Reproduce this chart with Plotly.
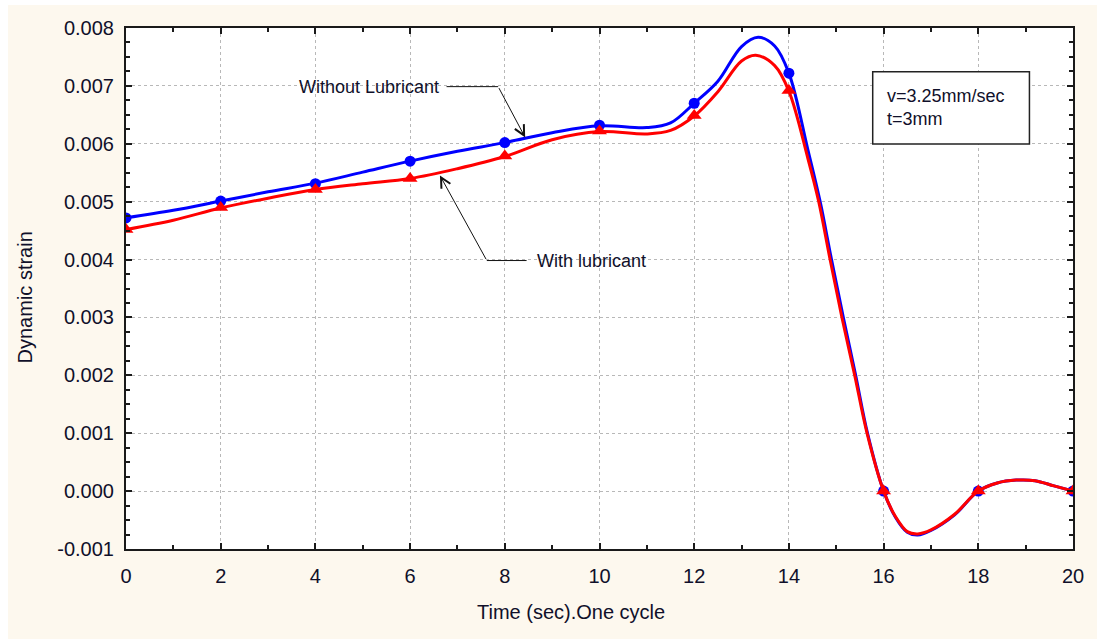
import plotly.graph_objects as go

# ---- data ----
marker_time = [0, 2, 4, 6, 8, 10, 12, 14, 16, 18, 20]
without_lub = [0.00472, 0.00501, 0.00531, 0.00570, 0.00602, 0.00632, 0.00670, 0.00722, 0.0, 0.0, 0.0]
with_lub = [0.00452, 0.00490, 0.00521, 0.00540, 0.00579, 0.00622, 0.00649, 0.00692, 0.0, 0.0, 0.0]

# curves as drawn
curve_time_wo = [0, 1, 2, 3, 4, 5, 6, 7, 8, 9, 10, 11, 11.5, 12, 12.5, 13, 13.35, 13.7, 14,
                 14.4, 14.66, 14.9, 15.15, 15.41, 15.66, 16, 16.25, 16.5, 16.72, 17, 17.5, 18,
                 18.4, 18.8, 19.2, 19.6, 20]
curve_wo = [0.00472, 0.00485, 0.00501, 0.00517, 0.00532, 0.00551, 0.00570, 0.00587, 0.00602,
            0.00619, 0.00631, 0.00628, 0.00636, 0.00670, 0.00708, 0.00768, 0.00784, 0.00769, 0.00722,
            0.00590, 0.00500, 0.00400, 0.00300, 0.00200, 0.00100, 0.0, -0.00045, -0.00071, -0.00076,
            -0.00068, -0.00041, 0.0, 0.00014, 0.00019, 0.00018, 0.00009, 0.0]
curve_time_w = [0, 1, 2, 3, 4, 5, 6, 7, 8, 9, 10, 11, 11.5, 12, 12.5, 13, 13.3, 13.7, 14,
                14.4, 14.63, 14.87, 15.12, 15.39, 15.65, 16, 16.25, 16.5, 16.72, 17, 17.5, 18,
                18.4, 18.8, 19.2, 19.6, 20]
curve_w = [0.00452, 0.00468, 0.00489, 0.00506, 0.00521, 0.00531, 0.00540, 0.00557, 0.00578,
           0.00607, 0.00621, 0.00617, 0.00623, 0.00648, 0.00690, 0.00743, 0.00753, 0.00735, 0.00691,
           0.00575, 0.00500, 0.00400, 0.00300, 0.00200, 0.00100, 0.0, -0.00044, -0.00070, -0.00074,
           -0.00067, -0.00040, 0.0, 0.00014, 0.00019, 0.00018, 0.00009, 0.0]

y_tickvals = [-0.001, 0.0, 0.001, 0.002, 0.003, 0.004, 0.005, 0.006, 0.007, 0.008]
y_ticktext = ["-0.001", "0.000", "0.001", "0.002", "0.003", "0.004", "0.005", "0.006", "0.007", "0.008"]
x_tickvals = [0, 2, 4, 6, 8, 10, 12, 14, 16, 18, 20]

BLUE = "#0000ff"
RED = "#ff0000"
TXT = "#10102a"
FONT = "Liberation Sans, Arial, sans-serif"

fig = go.Figure()
fig.add_trace(go.Scatter(x=curve_time_wo, y=curve_wo, mode="lines",
                         line=dict(color=BLUE, width=3, shape="spline", smoothing=1.0),
                         showlegend=False, hoverinfo="skip"))
fig.add_trace(go.Scatter(x=marker_time, y=without_lub, mode="markers",
                         marker=dict(color=BLUE, size=11, symbol="circle"),
                         name="Without Lubricant", showlegend=False))
fig.add_trace(go.Scatter(x=curve_time_w, y=curve_w, mode="lines",
                         line=dict(color=RED, width=3, shape="spline", smoothing=1.0),
                         showlegend=False, hoverinfo="skip"))
fig.add_trace(go.Scatter(x=marker_time, y=with_lub, mode="markers",
                         marker=dict(color=RED, size=13, symbol="triangle-up"),
                         name="With lubricant", showlegend=False))

axis_common = dict(
    showline=True, linecolor="#1a1a1a", linewidth=2, mirror="allticks",
    ticks="inside", ticklen=6, tickwidth=1.5, tickcolor="#1a1a1a",
    showgrid=True, gridcolor="#b8b8b8", gridwidth=1, griddash="dot",
    zeroline=False,
    tickfont=dict(family=FONT, size=20, color=TXT),
)

fig.update_xaxes(range=[0, 20], tickvals=x_tickvals, ticklabelstandoff=8,
                 minor=dict(dtick=1, ticks="inside", ticklen=4, tickcolor="#1a1a1a", showgrid=False),
                 **axis_common)
fig.update_yaxes(range=[-0.001, 0.008], tickvals=y_tickvals, ticktext=y_ticktext, ticklabelstandoff=6,
                 minor=dict(dtick=0.00025, tick0=0, ticks="inside", ticklen=4, tickcolor="#1a1a1a", showgrid=False),
                 **axis_common)

OX, OY = 8, 5            # page offset of the figure (body margin)
W, H = 1097 - OX, 639 - OY
L = 126 - OX
T = 25 - OY
R = W - (1073 - OX)
B = H - (549 - OY)
pw, ph = W - L - R, H - T - B

def px_x(p):
    return (p - OX - L) / pw

def px_y(p):
    return (H - B - (p - OY)) / ph

shapes = [
    # parameter box
    dict(type="rect", xref="x", yref="y", x0=15.77, x1=19.08, y0=0.005996, y1=0.007244,
         line=dict(color="#222222", width=1.5), fillcolor="white", layer="above"),
    # horizontal legs of the leader lines
    dict(type="line", xref="x", yref="y", x0=6.77, x1=7.86, y0=0.006987, y1=0.006987,
         line=dict(color="#111111", width=1)),
    dict(type="line", xref="x", yref="y", x0=7.62, x1=8.46, y0=0.003983, y1=0.003983,
         line=dict(color="#111111", width=1)),
]

annotations = [
    dict(x=8.43, y=0.00611, ax=7.86, ay=0.006987, xref="x", yref="y", axref="x", ayref="y",
         text="", showarrow=True, arrowhead=5, arrowsize=2, arrowwidth=1, arrowcolor="#111111"),
    dict(x=6.63, y=0.005454, ax=7.62, ay=0.003983, xref="x", yref="y", axref="x", ayref="y",
         text="", showarrow=True, arrowhead=5, arrowsize=2, arrowwidth=1, arrowcolor="#111111"),
    dict(x=6.65, y=0.006987, xref="x", yref="y", text="Without Lubricant", showarrow=False,
         xanchor="right", yanchor="middle", font=dict(family=FONT, size=18, color=TXT)),
    dict(x=8.64, y=0.003983, xref="x", yref="y", text="With lubricant", showarrow=False,
         xanchor="left", yanchor="middle", font=dict(family=FONT, size=18, color=TXT)),
    dict(x=16.03, y=0.00662, xref="x", yref="y", text="v=3.25mm/sec<br>t=3mm", showarrow=False,
         xanchor="left", yanchor="middle", align="left", font=dict(family=FONT, size=18, color=TXT)),
    dict(x=px_x(571), y=px_y(612), xref="paper", yref="paper", text="Time (sec).One cycle",
         showarrow=False, xanchor="center", yanchor="middle", font=dict(family=FONT, size=20, color=TXT)),
    dict(x=px_x(25), y=px_y(296), xref="paper", yref="paper", text="Dynamic strain", textangle=-90,
         showarrow=False, xanchor="center", yanchor="middle", font=dict(family=FONT, size=20, color=TXT)),
]

fig.update_layout(
    width=W, height=H,
    margin=dict(l=L, r=R, t=T, b=B, pad=0),
    paper_bgcolor="#fdf8ee", plot_bgcolor="white",
    shapes=shapes, annotations=annotations,
    showlegend=False,
    font=dict(family=FONT, color=TXT),
)

fig.write_html("out.html", config={"displayModeBar": False},
               post_script="document.body.style.margin='5px 0 0 8px';")
